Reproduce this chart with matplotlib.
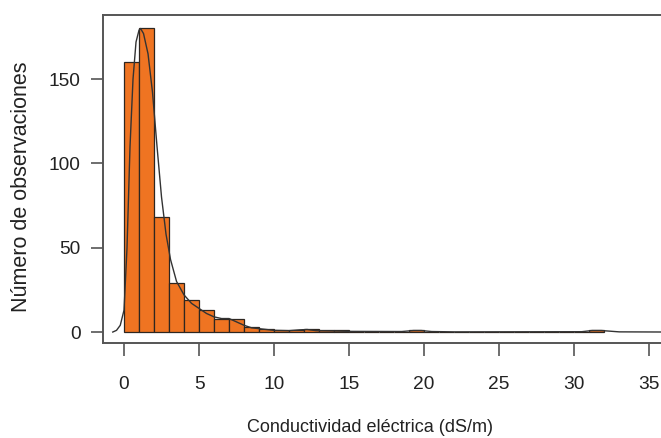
import numpy as np
import matplotlib
matplotlib.use("Agg")
import matplotlib.pyplot as plt

plt.rcParams["font.family"] = ["Liberation Sans", "DejaVu Sans"]

# histogram counts, bins of width 1 from 0 to 32
bin_edges = np.arange(0, 33, 1)
counts = [160, 180, 68, 29, 19, 13, 8, 8, 3, 2, 1, 1, 2, 1, 1, 0,
          0, 0, 0, 1, 0, 0, 0, 0, 0, 0, 0, 0, 0, 0, 0, 1]

# density curve (scaled to counts)
curve_x = [-0.75, -0.5, -0.25, 0.0, 0.2, 0.4, 0.6, 0.8, 1.0, 1.1, 1.3, 1.6, 1.9,
           2.2, 2.5, 2.8, 3.1, 3.5, 4.0, 4.5, 5.0, 5.5, 6.0, 6.5, 7.0, 7.5, 8.0,
           8.5, 9.0, 9.5, 10.0, 11.0, 11.7, 12.2, 12.8, 14.0, 15.0, 18.5, 19.3,
           19.8, 20.5, 22.0, 30.5, 31.2, 31.8, 33.0, 36.5]
curve_y = [0, 1, 4, 13, 50, 110, 150, 172, 179, 180, 177, 165, 142,
           110, 80, 58, 43, 30, 22, 17, 14, 11, 9, 8, 8, 6, 4,
           2.5, 2, 1.5, 1, 0.8, 1.3, 1.5, 0.8, 0.6, 0.4, 0.3, 0.9,
           0.9, 0.3, 0.1, 0.2, 0.9, 0.9, 0.1, 0]

xticks = [0, 5, 10, 15, 20, 25, 30, 35]
yticks = [0, 50, 100, 150]

fig = plt.figure(figsize=(6.61, 4.38), dpi=100)
ax = fig.add_axes([103 / 661, 1 - 343 / 438, (665 - 103) / 661, (343 - 15) / 438])

ax.bar(bin_edges[:-1], counts, width=1, align="edge", color="#EF7422",
       edgecolor="#2e2620", linewidth=0.9)
ax.plot(curve_x, curve_y, color="#333333", linewidth=1.0)

ax.set_xlim(-1.4, 36.05)
ax.set_ylim(-6.5, 188)
ax.set_xticks(xticks)
ax.set_yticks(yticks)

for s in ax.spines.values():
    s.set_color("#555555")
    s.set_linewidth(1.4)

ax.tick_params(axis="both", direction="out", length=9, width=1.2,
               color="#555555", labelsize=13.8, labelcolor="#222222")
ax.tick_params(axis="x", pad=15)
ax.tick_params(axis="y", pad=7)

ax.set_xlabel("Conductividad eléctrica (dS/m)", fontsize=13, color="#222222", labelpad=18)
ax.set_ylabel("Número de observaciones", fontsize=15.5, color="#222222", labelpad=12)
ax.xaxis.set_label_coords(0.475, -0.232)
ax.yaxis.label.set_y(0.475)

fig.savefig("out.png", dpi=100)
